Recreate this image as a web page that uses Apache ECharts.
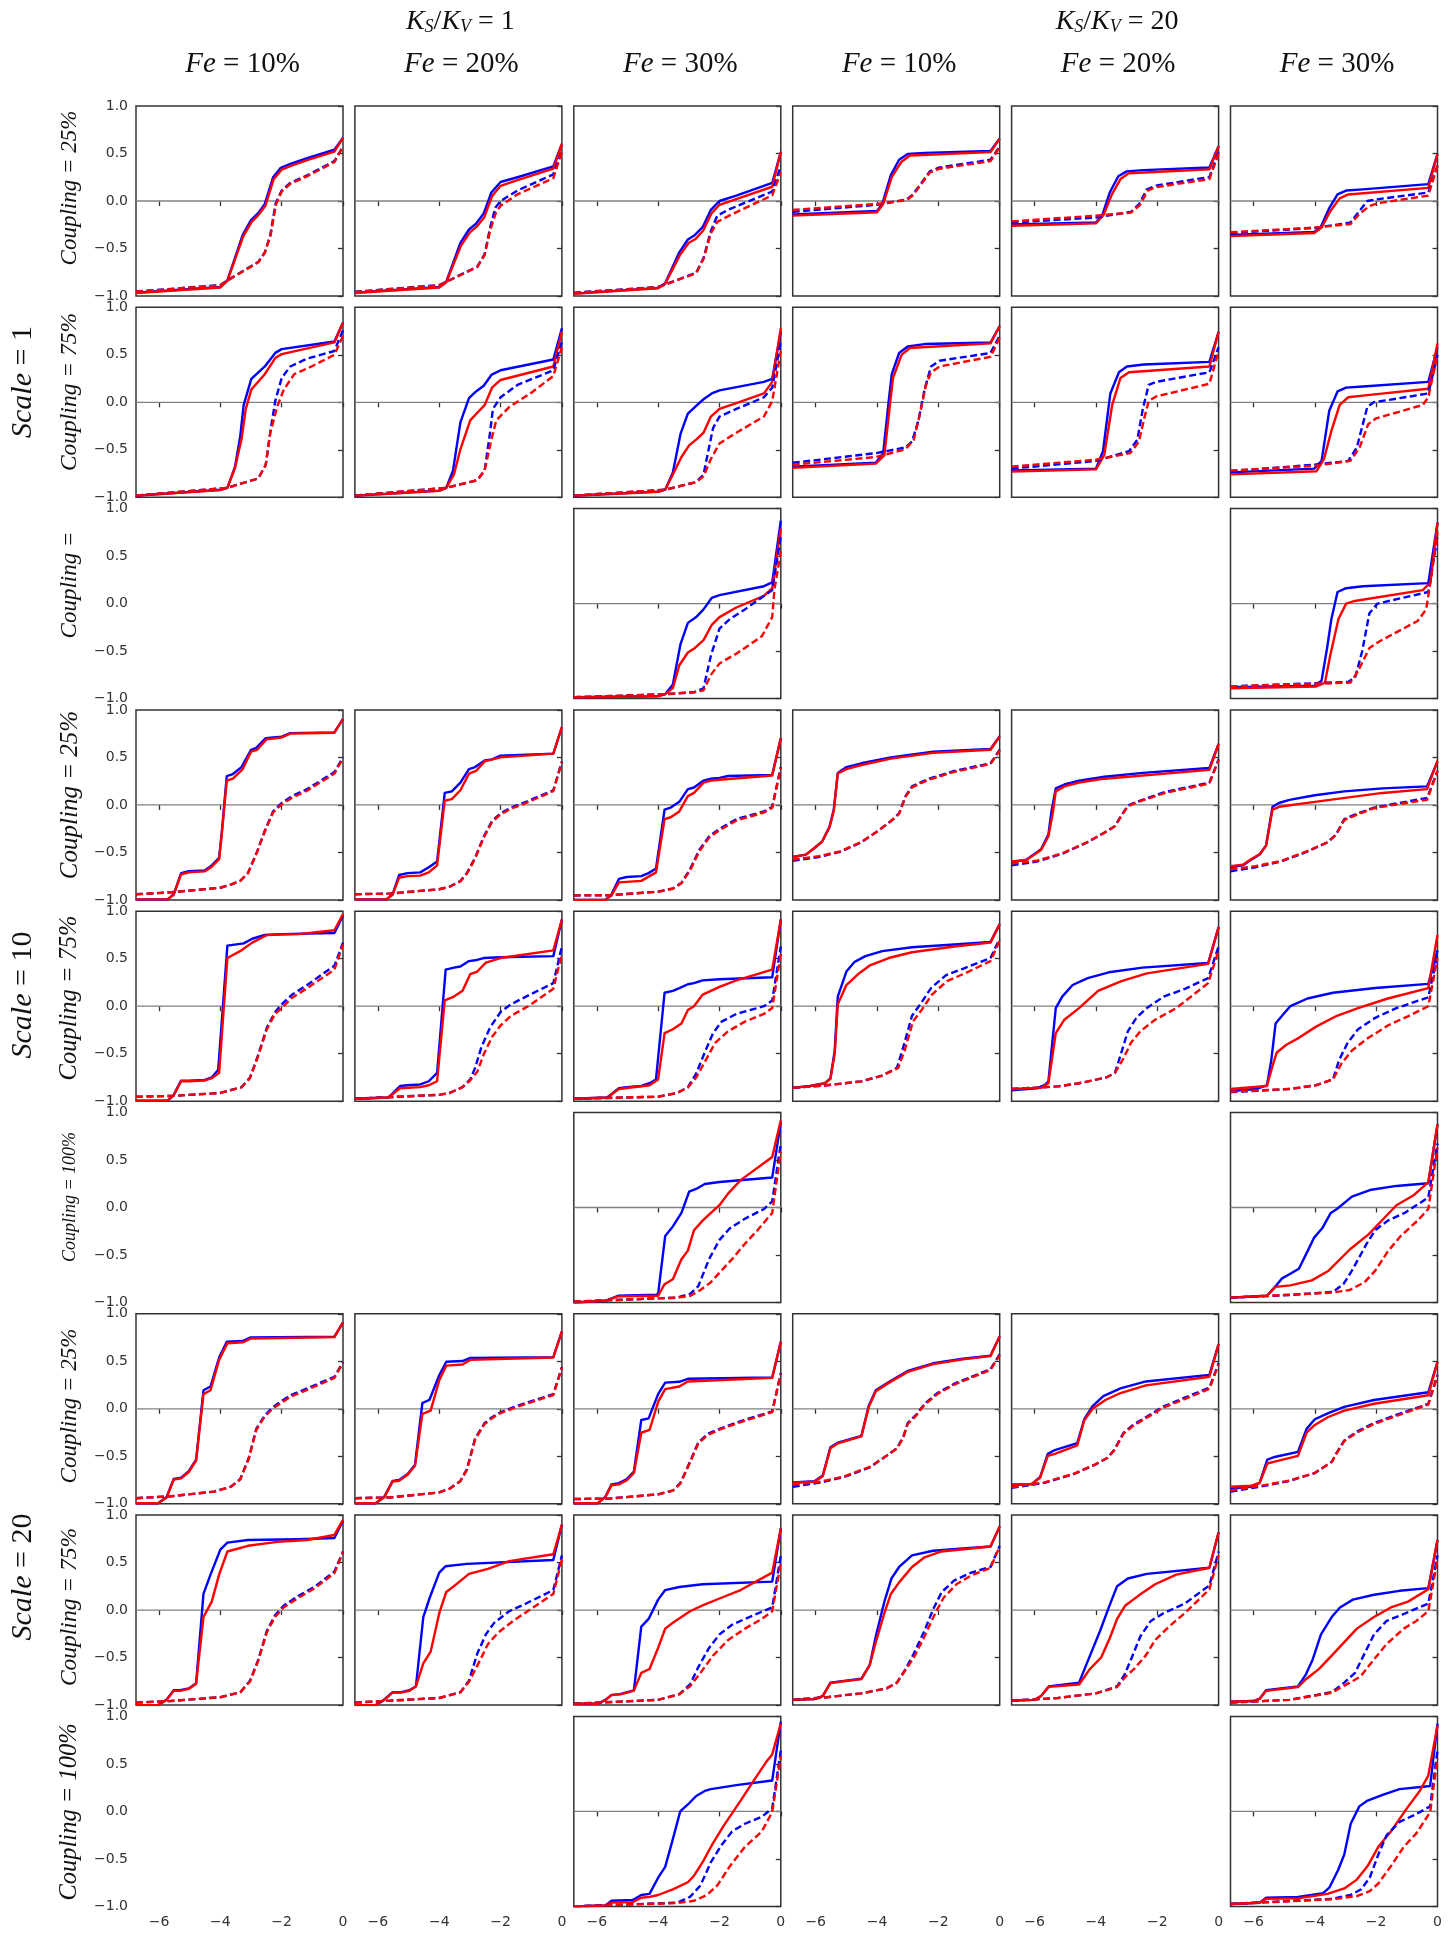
<!DOCTYPE html>
<html>
<head>
<meta charset="utf-8">
<script src="https://cdn.jsdelivr.net/npm/echarts@6/dist/echarts.min.js"></script>
<style>
html,body{margin:0;padding:0;background:#fff;}
#chart{width:1451px;height:1938px;}
</style>
</head>
<body>
<div id="chart"></div>
<script>
// ---------- Labels ----------
const ratioHeaders = ['1', '20'];
const feLabels = ['10%', '20%', '30%', '10%', '20%', '30%'];
const scaleLabels = ['1', '10', '20'];
const couplingLabels = ['Coupling = 25%', 'Coupling = 75%', 'Coupling =', 'Coupling = 25%', 'Coupling = 75%', 'Coupling = 100%', 'Coupling = 25%', 'Coupling = 75%', 'Coupling = 100%'];
const xTicks = [-6, -4, -2, 0];
const yTicks = [-1, -0.5, 0, 0.5, 1];
const zeroLine = [[-6.75, 0], [0, 0]];

// ---------- Data: each panel = [blue solid, red solid, blue dashed, red dashed], points [x, y] ----------
// Scale = 1, Coupling = 25%
const r1c1 = [
 [[-6.75,-0.965],[-4,-0.905],[-3.77,-0.835],[-3.27,-0.357],[-3.0,-0.2],[-2.76,-0.125],[-2.55,-0.03],[-2.28,0.25],[-2.03,0.35],[-1.72,0.39],[-1.17,0.45],[-0.28,0.54],[0,0.665]],
 [[-6.75,-0.97],[-4,-0.91],[-3.77,-0.84],[-3.25,-0.37],[-2.98,-0.22],[-2.74,-0.14],[-2.53,-0.05],[-2.26,0.23],[-2.0,0.33],[-1.7,0.37],[-1.17,0.43],[-0.28,0.52],[0,0.665]],
 [[-6.75,-0.953],[-4,-0.885],[-3.77,-0.835],[-2.76,-0.64],[-2.55,-0.54],[-2.37,-0.357],[-2.2,-0.03],[-2.0,0.11],[-1.72,0.19],[-1.17,0.27],[-0.28,0.42],[0,0.575]],
 [[-6.75,-0.955],[-4,-0.888],[-3.77,-0.838],[-2.76,-0.645],[-2.55,-0.545],[-2.36,-0.36],[-2.19,-0.04],[-2.0,0.1],[-1.72,0.18],[-1.17,0.26],[-0.28,0.41],[0,0.57]]
];
const r1c2 = [
 [[-6.75,-0.965],[-4,-0.905],[-3.77,-0.85],[-3.31,-0.44],[-3.03,-0.3],[-2.8,-0.24],[-2.55,-0.13],[-2.3,0.09],[-2.0,0.2],[-1.45,0.25],[-0.28,0.365],[0,0.6]],
 [[-6.75,-0.968],[-4,-0.91],[-3.77,-0.855],[-3.29,-0.47],[-3.0,-0.33],[-2.78,-0.27],[-2.53,-0.17],[-2.28,0.05],[-2.0,0.16],[-1.45,0.22],[-0.28,0.34],[0,0.6]],
 [[-6.75,-0.955],[-4,-0.885],[-3.77,-0.85],[-2.76,-0.69],[-2.52,-0.56],[-2.34,-0.28],[-2.17,-0.07],[-2.0,0.0],[-1.45,0.11],[-0.28,0.28],[0,0.53]],
 [[-6.75,-0.958],[-4,-0.888],[-3.77,-0.852],[-2.76,-0.695],[-2.52,-0.57],[-2.33,-0.3],[-2.15,-0.12],[-2.0,-0.05],[-1.45,0.07],[-0.28,0.24],[0,0.52]]
];
const r1c3 = [
 [[-6.75,-0.975],[-4,-0.915],[-3.77,-0.865],[-3.31,-0.54],[-3.03,-0.405],[-2.8,-0.357],[-2.55,-0.276],[-2.28,-0.093],[-2.0,0.0],[-1.45,0.057],[-0.28,0.19],[0,0.515]],
 [[-6.75,-0.978],[-4,-0.918],[-3.77,-0.87],[-3.29,-0.57],[-3.0,-0.44],[-2.78,-0.4],[-2.53,-0.31],[-2.26,-0.13],[-2.0,-0.04],[-1.45,0.02],[-0.28,0.15],[0,0.515]],
 [[-6.75,-0.965],[-4,-0.905],[-2.76,-0.755],[-2.52,-0.6],[-2.28,-0.316],[-2.07,-0.154],[-1.72,-0.093],[-0.28,0.1],[0,0.37]],
 [[-6.75,-0.968],[-4,-0.908],[-2.76,-0.76],[-2.52,-0.61],[-2.28,-0.34],[-2.07,-0.22],[-1.72,-0.16],[-0.28,0.06],[0,0.3]]
];
const r1c4 = [
 [[-6.75,-0.142],[-4,-0.105],[-3.83,-0.032],[-3.55,0.272],[-3.28,0.434],[-3.0,0.495],[-2.45,0.507],[-0.3,0.527],[0,0.657]],
 [[-6.75,-0.154],[-4,-0.118],[-3.8,-0.032],[-3.52,0.252],[-3.2,0.414],[-2.93,0.479],[-0.3,0.515],[0,0.657]],
 [[-6.75,-0.114],[-4,-0.04],[-3.04,0.016],[-2.83,0.069],[-2.55,0.19],[-2.28,0.312],[-1.96,0.353],[-0.3,0.434],[0,0.576]],
 [[-6.75,-0.093],[-4,-0.032],[-3.04,0.008],[-2.83,0.06],[-2.55,0.18],[-2.28,0.3],[-1.96,0.34],[-0.3,0.42],[0,0.565]]
];
const r1c5 = [
 [[-6.75,-0.247],[-4,-0.227],[-3.79,-0.146],[-3.55,0.089],[-3.27,0.26],[-3.0,0.312],[-2.45,0.325],[-0.3,0.353],[0,0.576]],
 [[-6.75,-0.26],[-4,-0.235],[-3.75,-0.146],[-3.48,0.07],[-3.2,0.231],[-2.93,0.292],[-0.3,0.333],[0,0.576]],
 [[-6.75,-0.227],[-4,-0.174],[-2.86,-0.114],[-2.59,-0.032],[-2.34,0.122],[-2.04,0.162],[-0.3,0.252],[0,0.515]],
 [[-6.75,-0.215],[-4,-0.154],[-2.86,-0.122],[-2.56,-0.04],[-2.31,0.11],[-2.04,0.146],[-0.3,0.231],[0,0.5]]
];
const r1c6 = [
 [[-6.75,-0.357],[-4.02,-0.325],[-3.81,-0.276],[-3.54,-0.081],[-3.26,0.069],[-2.98,0.11],[-2.43,0.122],[-0.3,0.178],[0,0.495]],
 [[-6.75,-0.37],[-4.02,-0.337],[-3.78,-0.28],[-3.51,-0.114],[-3.19,0.028],[-2.91,0.069],[-0.3,0.138],[0,0.495]],
 [[-6.75,-0.337],[-4.02,-0.284],[-2.84,-0.227],[-2.57,-0.114],[-2.29,0.0],[-2.02,0.016],[-0.3,0.089],[0,0.373]],
 [[-6.75,-0.329],[-4.02,-0.28],[-2.84,-0.243],[-2.54,-0.134],[-2.22,-0.053],[-1.96,-0.024],[-0.3,0.057],[0,0.373]]
];
// Scale = 1, Coupling = 75%
const r2c1 = [
 [[-6.75,-0.982],[-4,-0.92],[-3.77,-0.9],[-3.52,-0.677],[-3.35,-0.353],[-3.24,-0.03],[-2.99,0.247],[-2.55,0.377],[-2.21,0.52],[-2.0,0.56],[-0.28,0.64],[0,0.84]],
 [[-6.75,-0.985],[-4,-0.925],[-3.77,-0.9],[-3.52,-0.69],[-3.31,-0.39],[-3.17,-0.07],[-2.99,0.134],[-2.55,0.296],[-2.21,0.466],[-2.0,0.507],[-0.28,0.63],[0,0.84]],
 [[-6.75,-0.982],[-3.77,-0.9],[-2.76,-0.8],[-2.52,-0.657],[-2.37,-0.31],[-2.21,0.012],[-2.0,0.256],[-1.72,0.377],[-1.17,0.46],[-0.28,0.54],[0,0.76]],
 [[-6.75,-0.982],[-3.77,-0.9],[-2.76,-0.8],[-2.52,-0.66],[-2.37,-0.32],[-2.14,-0.04],[-1.93,0.134],[-1.59,0.296],[-1.03,0.377],[-0.28,0.5],[0,0.7]]
];
const r2c2 = [
 [[-6.75,-0.982],[-4,-0.93],[-3.77,-0.9],[-3.55,-0.718],[-3.31,-0.211],[-3.03,0.045],[-2.8,0.114],[-2.55,0.174],[-2.3,0.288],[-2.0,0.337],[-0.28,0.45],[0,0.78]],
 [[-6.75,-0.985],[-4,-0.932],[-3.77,-0.9],[-3.52,-0.76],[-3.31,-0.495],[-2.99,-0.19],[-2.76,-0.11],[-2.52,-0.03],[-2.28,0.154],[-2.0,0.235],[-0.28,0.377],[0,0.742]],
 [[-6.75,-0.982],[-3.77,-0.9],[-2.76,-0.82],[-2.52,-0.718],[-2.34,-0.312],[-2.25,-0.07],[-2.0,0.053],[-1.45,0.183],[-0.28,0.337],[0,0.64]],
 [[-6.75,-0.982],[-3.77,-0.9],[-2.76,-0.82],[-2.52,-0.718],[-2.3,-0.393],[-2.14,-0.19],[-1.72,-0.05],[-1.03,0.093],[-0.28,0.276],[0,0.58]]
];
const r2c3 = [
 [[-6.75,-0.982],[-4,-0.94],[-3.77,-0.92],[-3.52,-0.738],[-3.27,-0.333],[-3.03,-0.118],[-2.76,-0.037],[-2.52,0.032],[-2.25,0.093],[-2.0,0.126],[-0.55,0.215],[-0.28,0.247],[0,0.742]],
 [[-6.75,-0.985],[-4,-0.942],[-3.77,-0.92],[-3.52,-0.76],[-3.24,-0.576],[-2.99,-0.454],[-2.76,-0.393],[-2.52,-0.32],[-2.28,-0.15],[-2.0,-0.07],[-1.45,-0.008],[-0.55,0.093],[-0.28,0.215],[0,0.78]],
 [[-6.75,-0.982],[-3.77,-0.92],[-2.76,-0.84],[-2.52,-0.76],[-2.34,-0.475],[-2.21,-0.272],[-2.0,-0.15],[-1.45,-0.07],[-0.55,0.053],[-0.28,0.154],[0,0.64]],
 [[-6.75,-0.982],[-3.77,-0.92],[-2.76,-0.84],[-2.52,-0.78],[-2.28,-0.597],[-2.0,-0.434],[-1.45,-0.32],[-0.55,-0.15],[-0.28,0.012],[0,0.54]]
];
const r2c4 = [
 [[-6.75,-0.677],[-4.04,-0.637],[-3.8,-0.535],[-3.62,0.012],[-3.52,0.296],[-3.28,0.519],[-3.0,0.588],[-2.45,0.613],[-0.3,0.629],[0,0.803]],
 [[-6.75,-0.69],[-4.04,-0.645],[-3.76,-0.556],[-3.58,-0.028],[-3.48,0.256],[-3.2,0.499],[-2.93,0.572],[-0.3,0.62],[0,0.803]],
 [[-6.75,-0.637],[-4.04,-0.535],[-3.07,-0.475],[-2.86,-0.414],[-2.65,-0.19],[-2.45,0.134],[-2.24,0.377],[-1.96,0.438],[-0.3,0.519],[0,0.7]],
 [[-6.75,-0.657],[-4.04,-0.576],[-3.07,-0.495],[-2.8,-0.393],[-2.62,-0.15],[-2.41,0.174],[-2.24,0.316],[-1.96,0.377],[-0.3,0.479],[0,0.68]]
];
const r2c5 = [
 [[-6.75,-0.718],[-4,-0.698],[-3.77,-0.515],[-3.53,0.093],[-3.25,0.316],[-2.99,0.377],[-2.44,0.398],[-0.3,0.426],[0,0.742]],
 [[-6.75,-0.73],[-4,-0.706],[-3.73,-0.556],[-3.47,-0.028],[-3.2,0.256],[-2.92,0.316],[-0.3,0.377],[0,0.742]],
 [[-6.75,-0.698],[-4,-0.617],[-2.92,-0.515],[-2.65,-0.393],[-2.47,-0.069],[-2.28,0.183],[-2.04,0.215],[-0.3,0.316],[0,0.58]],
 [[-6.75,-0.677],[-4,-0.604],[-2.88,-0.535],[-2.6,-0.414],[-2.41,-0.15],[-2.28,0.012],[-2.04,0.061],[-0.3,0.195],[0,0.54]]
];
const r2c6 = [
 [[-6.75,-0.738],[-4.02,-0.698],[-3.78,-0.617],[-3.53,-0.089],[-3.26,0.114],[-2.98,0.154],[-2.43,0.166],[-0.3,0.215],[0,0.58]],
 [[-6.75,-0.759],[-3.95,-0.726],[-3.7,-0.596],[-3.47,-0.312],[-3.19,-0.028],[-2.91,0.053],[-2.36,0.073],[-0.3,0.142],[0,0.62]],
 [[-6.75,-0.726],[-4.02,-0.657],[-2.91,-0.617],[-2.63,-0.475],[-2.29,-0.049],[-2.08,0.0],[-0.3,0.093],[0,0.5]],
 [[-6.75,-0.718],[-4.02,-0.669],[-2.84,-0.617],[-2.54,-0.475],[-2.26,-0.231],[-2.01,-0.17],[-0.48,-0.028],[-0.3,0.053],[0,0.5]]
];
// Scale = 1, Coupling = (100%)
const r3c3 = [
 [[-6.75,-0.986],[-4,-0.974],[-3.77,-0.953],[-3.52,-0.852],[-3.27,-0.426],[-3.03,-0.203],[-2.76,-0.142],[-2.52,-0.061],[-2.25,0.061],[-2.0,0.089],[-0.55,0.183],[-0.28,0.223],[0,0.872]],
 [[-6.75,-0.988],[-4,-0.976],[-3.77,-0.953],[-3.52,-0.89],[-3.31,-0.649],[-3.03,-0.515],[-2.8,-0.467],[-2.52,-0.385],[-2.25,-0.223],[-2.0,-0.142],[-1.45,-0.041],[-0.55,0.081],[-0.28,0.162],[0,0.79]],
 [[-6.75,-0.986],[-3.77,-0.953],[-2.83,-0.933],[-2.52,-0.892],[-2.28,-0.548],[-2.0,-0.264],[-1.66,-0.162],[-1.17,-0.061],[-0.55,0.081],[-0.28,0.142],[0,0.71]],
 [[-6.75,-0.986],[-3.77,-0.953],[-2.83,-0.933],[-2.52,-0.913],[-2.28,-0.75],[-2.0,-0.63],[-1.45,-0.527],[-0.62,-0.345],[-0.28,-0.142],[-0.21,0.142],[0,0.55]]
];
const r3c6 = [
 [[-6.75,-0.88],[-4.02,-0.864],[-3.78,-0.811],[-3.6,-0.467],[-3.46,-0.162],[-3.26,0.122],[-2.98,0.162],[-2.43,0.183],[-0.3,0.215],[0,0.852]],
 [[-6.75,-0.892],[-3.95,-0.872],[-3.67,-0.832],[-3.5,-0.548],[-3.23,-0.162],[-2.98,0.0],[-2.7,0.028],[-0.48,0.142],[-0.23,0.223],[0,0.852]],
 [[-6.75,-0.872],[-2.91,-0.824],[-2.68,-0.771],[-2.46,-0.507],[-2.22,-0.101],[-1.96,0.0],[-0.3,0.122],[0,0.71]],
 [[-6.75,-0.872],[-2.84,-0.832],[-2.59,-0.71],[-2.22,-0.467],[-1.87,-0.393],[-0.65,-0.183],[-0.37,-0.061],[-0.23,0.223],[0,0.75]]
];
// Scale = 10, Coupling = 25%
const r4c1 = [
 [[-6.75,-0.994],[-5.72,-0.994],[-5.52,-0.941],[-5.28,-0.718],[-5.03,-0.698],[-4.51,-0.69],[-4.28,-0.637],[-4.04,-0.556],[-3.96,-0.312],[-3.79,0.304],[-3.59,0.325],[-3.31,0.398],[-3.0,0.58],[-2.83,0.6],[-2.52,0.702],[-2.28,0.71],[-2.0,0.718],[-1.72,0.755],[-0.28,0.763],[0,0.905]],
 [[-6.75,-0.994],[-5.72,-0.994],[-5.52,-0.945],[-5.28,-0.73],[-5.03,-0.71],[-4.51,-0.7],[-4.28,-0.65],[-4.04,-0.57],[-3.96,-0.33],[-3.79,0.256],[-3.59,0.276],[-3.27,0.377],[-3.0,0.56],[-2.8,0.58],[-2.5,0.69],[-2.0,0.71],[-1.72,0.75],[-0.28,0.76],[0,0.905]],
 [[-6.75,-0.941],[-5.59,-0.92],[-4,-0.872],[-3.66,-0.84],[-3.35,-0.8],[-3.1,-0.718],[-2.83,-0.515],[-2.55,-0.272],[-2.28,-0.069],[-2.0,0.02],[-1.66,0.093],[-1.17,0.166],[-0.28,0.345],[0,0.5]],
 [[-6.75,-0.941],[-5.59,-0.92],[-4,-0.872],[-3.66,-0.84],[-3.35,-0.8],[-3.1,-0.72],[-2.83,-0.52],[-2.55,-0.28],[-2.28,-0.08],[-2.0,0.005],[-1.66,0.075],[-1.17,0.15],[-0.28,0.33],[0,0.49]]
];
const r4c2 = [
 [[-6.75,-0.994],[-5.72,-0.994],[-5.52,-0.941],[-5.31,-0.738],[-5.03,-0.718],[-4.62,-0.71],[-4.34,-0.657],[-4.07,-0.596],[-3.82,0.126],[-3.59,0.142],[-3.31,0.235],[-3.03,0.377],[-2.83,0.398],[-2.52,0.467],[-2.28,0.479],[-2.0,0.519],[-0.28,0.54],[0,0.82]],
 [[-6.75,-0.994],[-5.72,-0.994],[-5.52,-0.945],[-5.31,-0.767],[-5.03,-0.75],[-4.62,-0.745],[-4.34,-0.71],[-4.07,-0.637],[-3.82,0.045],[-3.59,0.061],[-3.31,0.154],[-3.03,0.329],[-2.8,0.357],[-2.52,0.458],[-2.0,0.5],[-0.28,0.54],[0,0.82]],
 [[-6.75,-0.941],[-5.59,-0.933],[-4,-0.888],[-3.66,-0.86],[-3.31,-0.8],[-3.1,-0.718],[-2.83,-0.556],[-2.55,-0.333],[-2.28,-0.17],[-2.0,-0.089],[-1.66,-0.028],[-1.17,0.032],[-0.28,0.154],[0,0.458]],
 [[-6.75,-0.941],[-5.59,-0.933],[-4,-0.888],[-3.66,-0.862],[-3.31,-0.805],[-3.1,-0.725],[-2.83,-0.565],[-2.55,-0.345],[-2.28,-0.18],[-2.0,-0.1],[-1.66,-0.04],[-1.17,0.02],[-0.28,0.145],[0,0.45]]
];
const r4c3 = [
 [[-6.75,-1.0],[-5.72,-1.0],[-5.52,-0.941],[-5.28,-0.779],[-5.03,-0.759],[-4.55,-0.75],[-4.31,-0.718],[-4.07,-0.67],[-3.79,-0.049],[-3.59,-0.028],[-3.31,0.032],[-3.03,0.166],[-2.83,0.183],[-2.52,0.256],[-2.28,0.276],[-2.0,0.284],[-1.72,0.304],[-0.28,0.316],[0,0.702]],
 [[-6.75,-1.0],[-5.72,-1.0],[-5.52,-0.953],[-5.28,-0.815],[-4.55,-0.8],[-4.07,-0.71],[-3.79,-0.15],[-3.59,-0.13],[-3.31,-0.069],[-3.03,0.093],[-2.83,0.126],[-2.52,0.235],[-2.28,0.256],[-2.0,0.264],[-0.28,0.31],[0,0.702]],
 [[-6.75,-0.953],[-5.59,-0.95],[-4,-0.913],[-3.52,-0.88],[-3.24,-0.82],[-2.96,-0.677],[-2.66,-0.475],[-2.34,-0.333],[-2.0,-0.252],[-1.45,-0.15],[-0.55,-0.069],[-0.28,-0.02],[0,0.398]],
 [[-6.75,-0.953],[-5.59,-0.95],[-4,-0.915],[-3.52,-0.883],[-3.24,-0.825],[-2.96,-0.69],[-2.66,-0.49],[-2.34,-0.345],[-2.0,-0.265],[-1.45,-0.165],[-0.55,-0.08],[-0.28,-0.03],[0,0.39]]
];
const r4c4 = [
 [[-6.75,-0.548],[-6.32,-0.523],[-6.04,-0.454],[-5.79,-0.385],[-5.55,-0.231],[-5.41,-0.049],[-5.28,0.337],[-5.0,0.398],[-4.51,0.438],[-3.55,0.499],[-2.17,0.56],[-0.3,0.588],[0,0.722]],
 [[-6.75,-0.548],[-6.32,-0.523],[-6.04,-0.454],[-5.79,-0.385],[-5.55,-0.235],[-5.41,-0.06],[-5.28,0.33],[-5.0,0.377],[-4.51,0.42],[-3.55,0.487],[-2.17,0.548],[-0.3,0.58],[0,0.722]],
 [[-6.75,-0.588],[-5.9,-0.548],[-5.21,-0.495],[-4.51,-0.393],[-3.96,-0.272],[-3.55,-0.17],[-3.28,-0.089],[-3.07,0.093],[-2.86,0.195],[-2.31,0.276],[-1.48,0.357],[-0.3,0.438],[0,0.58]],
 [[-6.75,-0.576],[-5.9,-0.54],[-5.21,-0.49],[-4.51,-0.39],[-3.96,-0.272],[-3.55,-0.172],[-3.28,-0.095],[-3.07,0.085],[-2.86,0.185],[-2.31,0.266],[-1.48,0.347],[-0.3,0.43],[0,0.575]]
];
const r4c5 = [
 [[-6.75,-0.604],[-6.27,-0.576],[-5.79,-0.467],[-5.55,-0.312],[-5.45,-0.069],[-5.31,0.174],[-5.03,0.215],[-4.55,0.256],[-3.72,0.296],[-2.47,0.337],[-0.3,0.389],[0,0.641]],
 [[-6.75,-0.596],[-6.27,-0.58],[-5.79,-0.475],[-5.55,-0.33],[-5.41,-0.09],[-5.31,0.142],[-5.03,0.195],[-4.55,0.236],[-3.72,0.276],[-0.3,0.369],[0,0.641]],
 [[-6.75,-0.637],[-5.93,-0.596],[-5.1,-0.515],[-4.27,-0.393],[-3.72,-0.292],[-3.38,-0.223],[-3.17,-0.11],[-2.96,-0.008],[-2.68,0.032],[-1.76,0.134],[-0.3,0.235],[0,0.479]],
 [[-6.75,-0.617],[-5.93,-0.588],[-5.1,-0.51],[-4.27,-0.39],[-3.72,-0.292],[-3.38,-0.225],[-3.17,-0.115],[-2.96,-0.015],[-2.68,0.025],[-1.76,0.125],[-0.3,0.225],[0,0.47]]
];
const r4c6 = [
 [[-6.75,-0.657],[-6.35,-0.637],[-6.07,-0.576],[-5.8,-0.523],[-5.59,-0.426],[-5.38,-0.02],[-5.17,0.02],[-4.83,0.053],[-4.0,0.101],[-3.04,0.142],[-1.79,0.174],[-0.34,0.195],[0,0.458]],
 [[-6.75,-0.645],[-6.35,-0.63],[-6.07,-0.57],[-5.8,-0.52],[-5.59,-0.43],[-5.38,-0.049],[-5.17,-0.02],[-4.0,0.032],[-1.79,0.126],[-0.34,0.166],[0,0.465]],
 [[-6.75,-0.698],[-5.94,-0.657],[-5.1,-0.596],[-4.27,-0.495],[-3.58,-0.393],[-3.31,-0.312],[-3.04,-0.15],[-2.76,-0.11],[-2.07,-0.028],[-1.24,0.02],[-0.34,0.073],[0,0.357]],
 [[-6.75,-0.677],[-5.94,-0.645],[-5.1,-0.59],[-4.27,-0.49],[-3.58,-0.393],[-3.31,-0.315],[-3.04,-0.16],[-2.76,-0.12],[-2.07,-0.035],[-1.24,0.01],[-0.34,0.053],[0,0.357]]
];
// Scale = 10, Coupling = 75%
const r5c1 = [
 [[-6.75,-0.994],[-5.72,-0.994],[-5.52,-0.933],[-5.28,-0.783],[-5.03,-0.783],[-4.51,-0.775],[-4.28,-0.75],[-4.07,-0.669],[-3.77,0.637],[-3.24,0.661],[-2.96,0.71],[-2.55,0.75],[-2.0,0.759],[-0.28,0.771],[0,0.953]],
 [[-6.75,-0.994],[-5.72,-0.994],[-5.52,-0.937],[-5.28,-0.79],[-5.03,-0.79],[-4.51,-0.782],[-4.28,-0.758],[-4.04,-0.702],[-3.77,0.507],[-3.31,0.588],[-2.96,0.669],[-2.48,0.75],[-1.45,0.759],[-0.28,0.8],[0,0.97]],
 [[-6.75,-0.953],[-5.59,-0.945],[-4,-0.913],[-3.31,-0.852],[-3.03,-0.75],[-2.76,-0.507],[-2.48,-0.223],[-2.21,-0.061],[-2.0,0.02],[-1.66,0.122],[-1.17,0.223],[-0.28,0.426],[0,0.67]],
 [[-6.75,-0.953],[-5.59,-0.945],[-4,-0.913],[-3.31,-0.855],[-3.03,-0.755],[-2.76,-0.52],[-2.48,-0.24],[-2.21,-0.08],[-2.0,-0.02],[-1.66,0.09],[-1.17,0.19],[-0.28,0.385],[0,0.65]]
];
const r5c2 = [
 [[-6.75,-0.974],[-5.66,-0.961],[-5.28,-0.84],[-5.03,-0.832],[-4.62,-0.824],[-4.34,-0.79],[-4.07,-0.702],[-3.79,0.385],[-3.52,0.406],[-3.31,0.418],[-3.03,0.475],[-2.83,0.483],[-2.55,0.507],[-2.0,0.515],[-0.28,0.527],[0,0.913]],
 [[-6.75,-0.974],[-5.66,-0.961],[-5.28,-0.864],[-4.62,-0.852],[-4.34,-0.832],[-4.07,-0.79],[-3.82,0.061],[-3.52,0.101],[-3.24,0.162],[-2.99,0.337],[-2.76,0.365],[-2.48,0.458],[-2.0,0.507],[-0.28,0.588],[0,0.913]],
 [[-6.75,-0.974],[-4,-0.933],[-3.66,-0.913],[-3.24,-0.852],[-2.99,-0.771],[-2.83,-0.649],[-2.62,-0.426],[-2.34,-0.223],[-2.0,-0.061],[-1.66,0.02],[-1.17,0.101],[-0.28,0.243],[0,0.63]],
 [[-6.75,-0.974],[-4,-0.933],[-3.66,-0.913],[-3.24,-0.852],[-2.99,-0.78],[-2.76,-0.69],[-2.55,-0.507],[-2.28,-0.325],[-2.0,-0.203],[-1.66,-0.101],[-1.1,0.0],[-0.28,0.183],[0,0.55]]
];
const r5c3 = [
 [[-6.75,-0.974],[-5.66,-0.961],[-5.28,-0.864],[-5.03,-0.852],[-4.55,-0.84],[-4.28,-0.811],[-4.07,-0.771],[-3.79,0.142],[-3.52,0.162],[-3.31,0.19],[-3.03,0.231],[-2.83,0.243],[-2.55,0.272],[-2.0,0.284],[-0.28,0.304],[0,0.913]],
 [[-6.75,-0.974],[-5.66,-0.961],[-5.28,-0.872],[-4.28,-0.832],[-4.0,-0.771],[-3.79,-0.284],[-3.52,-0.243],[-3.24,-0.183],[-3.03,-0.041],[-2.83,0.0],[-2.55,0.122],[-2.28,0.162],[-2.0,0.203],[-1.45,0.272],[-0.28,0.385],[0,0.913]],
 [[-6.75,-0.974],[-4,-0.953],[-3.38,-0.913],[-3.03,-0.852],[-2.76,-0.71],[-2.48,-0.487],[-2.21,-0.284],[-1.93,-0.162],[-1.45,-0.081],[-0.55,0.0],[-0.28,0.061],[0,0.63]],
 [[-6.75,-0.974],[-4,-0.953],[-3.38,-0.913],[-3.03,-0.857],[-2.76,-0.75],[-2.48,-0.588],[-2.14,-0.385],[-1.72,-0.264],[-1.17,-0.162],[-0.55,-0.081],[-0.28,-0.02],[0,0.55]]
];
const r5c4 = [
 [[-6.75,-0.86],[-6.18,-0.84],[-5.7,-0.811],[-5.52,-0.759],[-5.38,-0.467],[-5.28,0.101],[-5.0,0.365],[-4.73,0.467],[-4.38,0.527],[-3.83,0.58],[-2.86,0.621],[-1.48,0.649],[-0.3,0.677],[0,0.864]],
 [[-6.75,-0.86],[-6.18,-0.84],[-5.7,-0.811],[-5.52,-0.765],[-5.38,-0.5],[-5.28,0.02],[-5.0,0.223],[-4.59,0.345],[-4.25,0.426],[-3.62,0.507],[-2.86,0.568],[-1.48,0.629],[-0.3,0.669],[0,0.864]],
 [[-6.75,-0.86],[-5.63,-0.832],[-4.51,-0.791],[-3.83,-0.73],[-3.35,-0.649],[-3.14,-0.426],[-2.86,-0.101],[-2.59,0.02],[-2.24,0.191],[-1.76,0.325],[-1.2,0.394],[-0.3,0.507],[0,0.71]],
 [[-6.75,-0.86],[-5.63,-0.832],[-4.51,-0.791],[-3.83,-0.73],[-3.31,-0.649],[-3.1,-0.467],[-2.83,-0.162],[-2.55,-0.041],[-2.21,0.122],[-1.72,0.264],[-1.14,0.345],[-0.3,0.475],[0,0.69]]
];
const r5c5 = [
 [[-6.75,-0.884],[-5.93,-0.864],[-5.68,-0.832],[-5.55,-0.791],[-5.31,-0.02],[-5.1,0.101],[-4.76,0.223],[-4.27,0.296],[-3.58,0.357],[-2.48,0.406],[-0.34,0.454],[0,0.832]],
 [[-6.75,-0.872],[-5.79,-0.86],[-5.55,-0.812],[-5.31,-0.284],[-5.03,-0.142],[-4.55,-0.02],[-3.93,0.162],[-3.17,0.264],[-2.34,0.345],[-0.34,0.446],[0,0.832]],
 [[-6.75,-0.872],[-5.24,-0.844],[-4.55,-0.811],[-3.66,-0.75],[-3.38,-0.702],[-3.17,-0.487],[-2.96,-0.264],[-2.68,-0.122],[-2.34,-0.02],[-1.79,0.101],[-1.1,0.183],[-0.34,0.296],[0,0.629]],
 [[-6.75,-0.872],[-5.24,-0.844],[-4.55,-0.811],[-3.66,-0.75],[-3.38,-0.702],[-3.1,-0.548],[-2.86,-0.385],[-2.55,-0.264],[-2.07,-0.142],[-1.38,-0.02],[-0.34,0.243],[0,0.59]]
];
const r5c6 = [
 [[-6.75,-0.892],[-5.91,-0.872],[-5.56,-0.832],[-5.42,-0.568],[-5.28,-0.183],[-5.07,-0.101],[-4.8,0.0],[-4.24,0.081],[-3.41,0.142],[-2.03,0.191],[-0.3,0.235],[0,0.588]],
 [[-6.75,-0.872],[-5.56,-0.84],[-5.38,-0.629],[-5.24,-0.487],[-4.93,-0.406],[-4.52,-0.333],[-3.96,-0.215],[-3.28,-0.101],[-2.59,-0.02],[-1.62,0.081],[-0.3,0.191],[0,0.75]],
 [[-6.75,-0.905],[-4.8,-0.872],[-3.96,-0.832],[-3.41,-0.771],[-3.21,-0.568],[-2.93,-0.385],[-2.59,-0.243],[-2.03,-0.122],[-1.34,-0.02],[-0.3,0.093],[0,0.548]],
 [[-6.75,-0.9],[-4.8,-0.87],[-3.96,-0.832],[-3.41,-0.771],[-3.14,-0.608],[-2.79,-0.467],[-2.31,-0.345],[-1.62,-0.203],[-0.93,-0.101],[-0.3,0.0],[0,0.507]]
];
// Scale = 10, Coupling = 100%
const r6c3 = [
 [[-6.75,-1.0],[-5.72,-0.982],[-5.31,-0.929],[-4.07,-0.917],[-4,-0.909],[-3.77,-0.3],[-3.52,-0.199],[-3.24,-0.057],[-2.99,0.166],[-2.76,0.195],[-2.48,0.247],[-2.0,0.268],[-0.28,0.316],[0,0.897]],
 [[-6.75,-1.0],[-5.72,-0.982],[-5.31,-0.935],[-4,-0.929],[-3.79,-0.807],[-3.52,-0.755],[-3.24,-0.544],[-3.03,-0.454],[-2.83,-0.239],[-2.55,-0.138],[-2.28,-0.057],[-2.0,0.024],[-1.72,0.146],[-1.31,0.288],[-0.28,0.531],[0,0.917]],
 [[-6.75,-0.99],[-3.38,-0.949],[-2.96,-0.909],[-2.69,-0.828],[-2.34,-0.544],[-2.0,-0.341],[-1.66,-0.219],[-1.17,-0.118],[-0.55,-0.016],[-0.28,0.065],[0,0.67]],
 [[-6.75,-0.99],[-3.38,-0.949],[-2.96,-0.93],[-2.62,-0.868],[-2.28,-0.787],[-2.0,-0.686],[-1.59,-0.544],[-1.17,-0.381],[-0.76,-0.239],[-0.28,-0.057],[0,0.592]]
];
const r6c6 = [
 [[-6.75,-0.949],[-5.56,-0.929],[-5.28,-0.828],[-5.07,-0.746],[-4.8,-0.698],[-4.52,-0.645],[-4.24,-0.462],[-4.03,-0.32],[-3.76,-0.219],[-3.48,-0.057],[-3.28,-0.016],[-2.79,0.114],[-2.16,0.187],[-1.34,0.227],[-0.3,0.256],[0,0.876]],
 [[-6.75,-0.949],[-5.56,-0.929],[-5.28,-0.836],[-4.8,-0.82],[-4.1,-0.767],[-3.55,-0.665],[-2.86,-0.442],[-2.24,-0.28],[-1.76,-0.118],[-1.34,0.024],[-0.79,0.126],[-0.3,0.268],[0,0.876]],
 [[-6.75,-0.949],[-4.8,-0.921],[-3.41,-0.888],[-3.07,-0.807],[-2.79,-0.665],[-2.31,-0.381],[-2.03,-0.239],[-1.62,-0.138],[-1.07,-0.057],[-0.3,0.105],[0,0.673]],
 [[-6.75,-0.949],[-3.41,-0.895],[-2.86,-0.868],[-2.38,-0.787],[-2.03,-0.665],[-1.62,-0.462],[-1.2,-0.3],[-0.65,-0.138],[-0.3,-0.016],[0,0.633]]
];
// Scale = 20, Coupling = 25%
const r7c1 = [
 [[-6.75,-0.994],[-6.03,-0.994],[-5.75,-0.929],[-5.52,-0.738],[-5.28,-0.726],[-5.03,-0.657],[-4.79,-0.535],[-4.55,0.195],[-4.32,0.235],[-4.04,0.54],[-3.79,0.706],[-3.27,0.714],[-3.03,0.75],[-0.28,0.759],[0,0.909]],
 [[-6.75,-0.994],[-6.03,-0.994],[-5.75,-0.933],[-5.52,-0.745],[-5.28,-0.733],[-5.03,-0.665],[-4.79,-0.545],[-4.55,0.154],[-4.32,0.195],[-4.04,0.515],[-3.77,0.69],[-3.27,0.7],[-3.0,0.74],[-0.28,0.755],[0,0.909]],
 [[-6.75,-0.941],[-5.59,-0.92],[-4.21,-0.872],[-3.66,-0.82],[-3.35,-0.738],[-3.07,-0.515],[-2.83,-0.211],[-2.55,-0.069],[-2.28,0.02],[-1.72,0.142],[-1.17,0.215],[-0.28,0.337],[0,0.491]],
 [[-6.75,-0.941],[-5.59,-0.92],[-4.21,-0.872],[-3.66,-0.822],[-3.35,-0.745],[-3.07,-0.525],[-2.83,-0.225],[-2.55,-0.08],[-2.28,0.005],[-1.72,0.125],[-1.17,0.2],[-0.28,0.325],[0,0.485]]
];
const r7c2 = [
 [[-6.75,-0.994],[-6.07,-0.994],[-5.79,-0.925],[-5.52,-0.759],[-5.31,-0.75],[-5.03,-0.686],[-4.79,-0.588],[-4.55,0.061],[-4.32,0.093],[-4.0,0.353],[-3.77,0.495],[-3.24,0.503],[-2.99,0.535],[-0.28,0.544],[0,0.815]],
 [[-6.75,-0.994],[-6.07,-0.994],[-5.79,-0.93],[-5.52,-0.765],[-5.31,-0.757],[-5.03,-0.695],[-4.79,-0.6],[-4.55,-0.053],[-4.28,-0.02],[-4.0,0.3],[-3.77,0.454],[-3.24,0.467],[-2.99,0.515],[-0.28,0.54],[0,0.815]],
 [[-6.75,-0.941],[-5.59,-0.933],[-4,-0.88],[-3.66,-0.84],[-3.31,-0.759],[-3.1,-0.637],[-2.83,-0.312],[-2.52,-0.15],[-2.28,-0.089],[-2.0,-0.037],[-1.45,0.032],[-0.28,0.154],[0,0.438]],
 [[-6.75,-0.941],[-5.59,-0.933],[-4,-0.88],[-3.66,-0.842],[-3.31,-0.762],[-3.1,-0.645],[-2.83,-0.325],[-2.52,-0.16],[-2.28,-0.1],[-2.0,-0.045],[-1.45,0.022],[-0.28,0.145],[0,0.43]]
];
const r7c3 = [
 [[-6.75,-0.994],[-5.97,-0.994],[-5.72,-0.925],[-5.52,-0.795],[-5.28,-0.783],[-5.03,-0.742],[-4.79,-0.661],[-4.55,-0.118],[-4.31,-0.101],[-4.0,0.154],[-3.77,0.276],[-3.31,0.284],[-3.03,0.316],[-0.28,0.329],[0,0.706]],
 [[-6.75,-0.994],[-5.97,-0.994],[-5.72,-0.93],[-5.52,-0.805],[-5.28,-0.795],[-5.03,-0.755],[-4.79,-0.675],[-4.55,-0.252],[-4.28,-0.223],[-4.0,0.073],[-3.77,0.207],[-3.31,0.235],[-3.03,0.288],[-0.28,0.325],[0,0.706]],
 [[-6.75,-0.95],[-5.59,-0.945],[-4,-0.9],[-3.52,-0.86],[-3.27,-0.779],[-2.96,-0.556],[-2.69,-0.353],[-2.38,-0.264],[-2.0,-0.211],[-1.31,-0.13],[-0.28,-0.028],[0,0.377]],
 [[-6.75,-0.95],[-5.59,-0.945],[-4,-0.9],[-3.52,-0.862],[-3.27,-0.785],[-2.96,-0.565],[-2.69,-0.365],[-2.38,-0.275],[-2.0,-0.22],[-1.31,-0.14],[-0.28,-0.035],[0,0.37]]
];
const r7c4 = [
 [[-6.75,-0.775],[-6.04,-0.763],[-5.77,-0.702],[-5.52,-0.406],[-5.28,-0.357],[-4.51,-0.284],[-4.27,0.032],[-4.04,0.195],[-3.55,0.296],[-3.0,0.398],[-2.17,0.479],[-1.2,0.527],[-0.3,0.56],[0,0.763]],
 [[-6.75,-0.78],[-6.04,-0.768],[-5.77,-0.71],[-5.52,-0.415],[-5.28,-0.365],[-4.51,-0.29],[-4.27,0.02],[-4.04,0.185],[-3.55,0.286],[-3.0,0.388],[-2.17,0.47],[-1.2,0.52],[-0.3,0.555],[0,0.763]],
 [[-6.75,-0.82],[-5.9,-0.78],[-5.07,-0.718],[-4.24,-0.617],[-3.69,-0.495],[-3.35,-0.414],[-3.14,-0.292],[-3.0,-0.15],[-2.72,-0.061],[-2.45,0.053],[-2.03,0.166],[-1.48,0.264],[-0.3,0.418],[0,0.572]],
 [[-6.75,-0.8],[-5.9,-0.77],[-5.07,-0.712],[-4.24,-0.612],[-3.69,-0.495],[-3.35,-0.418],[-3.14,-0.3],[-3.0,-0.16],[-2.72,-0.07],[-2.45,0.043],[-2.03,0.155],[-1.48,0.255],[-0.3,0.41],[0,0.565]]
];
const r7c5 = [
 [[-6.75,-0.8],[-6.1,-0.795],[-5.82,-0.718],[-5.57,-0.475],[-5.34,-0.434],[-4.61,-0.361],[-4.38,-0.11],[-4.1,0.032],[-3.76,0.134],[-3.2,0.215],[-2.37,0.288],[-0.3,0.357],[0,0.68]],
 [[-6.75,-0.795],[-6.1,-0.79],[-5.82,-0.725],[-5.57,-0.495],[-5.34,-0.474],[-4.61,-0.385],[-4.38,-0.12],[-4.1,0.004],[-3.69,0.093],[-3.2,0.166],[-2.37,0.247],[-0.3,0.337],[0,0.68]],
 [[-6.75,-0.832],[-5.68,-0.78],[-4.72,-0.686],[-4.03,-0.588],[-3.62,-0.515],[-3.41,-0.434],[-3.1,-0.252],[-2.79,-0.17],[-2.37,-0.089],[-1.83,0.02],[-1.13,0.114],[-0.3,0.223],[0,0.479]],
 [[-6.75,-0.825],[-5.68,-0.775],[-4.72,-0.684],[-4.03,-0.588],[-3.62,-0.515],[-3.41,-0.44],[-3.1,-0.262],[-2.79,-0.18],[-2.37,-0.1],[-1.83,0.008],[-1.13,0.1],[-0.3,0.21],[0,0.47]]
];
const r7c6 = [
 [[-6.75,-0.84],[-6.07,-0.82],[-5.8,-0.779],[-5.55,-0.536],[-5.31,-0.507],[-4.55,-0.454],[-4.27,-0.211],[-4.0,-0.11],[-3.58,-0.049],[-3.04,0.02],[-2.07,0.093],[-0.3,0.174],[0,0.495]],
 [[-6.75,-0.82],[-6.07,-0.81],[-5.8,-0.779],[-5.55,-0.576],[-5.31,-0.556],[-4.55,-0.495],[-4.27,-0.252],[-4.0,-0.17],[-3.58,-0.089],[-3.04,-0.02],[-2.07,0.053],[-0.3,0.142],[0,0.495]],
 [[-6.75,-0.872],[-5.8,-0.82],[-4.83,-0.759],[-4.0,-0.677],[-3.44,-0.556],[-3.31,-0.475],[-3.04,-0.333],[-2.63,-0.24],[-2.07,-0.15],[-1.38,-0.069],[-0.3,0.053],[0,0.357]],
 [[-6.75,-0.86],[-5.8,-0.812],[-4.83,-0.755],[-4.0,-0.675],[-3.44,-0.556],[-3.31,-0.48],[-3.04,-0.34],[-2.63,-0.25],[-2.07,-0.16],[-1.38,-0.08],[-0.3,0.045],[0,0.35]]
];
// Scale = 20, Coupling = 75%
const r8c1 = [
 [[-6.75,-1.0],[-6.03,-1.0],[-5.75,-0.941],[-5.52,-0.844],[-5.31,-0.844],[-5.03,-0.824],[-4.79,-0.771],[-4.55,0.17],[-4.32,0.373],[-4.0,0.637],[-3.77,0.71],[-3.1,0.738],[-1.45,0.746],[-0.28,0.759],[0,0.941]],
 [[-6.75,-1.0],[-6.03,-1.0],[-5.75,-0.945],[-5.52,-0.85],[-5.31,-0.85],[-5.03,-0.83],[-4.79,-0.775],[-4.55,-0.073],[-4.28,0.089],[-4.04,0.373],[-3.77,0.617],[-3.1,0.677],[-2.14,0.718],[-1.17,0.738],[-0.28,0.791],[0,0.949]],
 [[-6.75,-0.974],[-5.63,-0.957],[-4,-0.917],[-3.35,-0.864],[-3.03,-0.742],[-2.76,-0.519],[-2.48,-0.215],[-2.21,-0.053],[-1.93,0.049],[-1.45,0.15],[-0.9,0.252],[-0.28,0.406],[0,0.617]],
 [[-6.75,-0.974],[-5.63,-0.957],[-4,-0.917],[-3.35,-0.866],[-3.03,-0.75],[-2.76,-0.53],[-2.48,-0.23],[-2.21,-0.07],[-1.93,0.03],[-1.45,0.13],[-0.9,0.235],[-0.28,0.39],[0,0.61]]
];
const r8c2 = [
 [[-6.75,-1.0],[-6.07,-1.0],[-5.79,-0.941],[-5.52,-0.864],[-5.24,-0.864],[-4.97,-0.844],[-4.76,-0.803],[-4.52,-0.073],[-4.31,0.13],[-4.0,0.394],[-3.79,0.462],[-3.1,0.487],[-0.28,0.527],[0,0.9]],
 [[-6.75,-1.0],[-6.07,-1.0],[-5.79,-0.945],[-5.52,-0.868],[-5.24,-0.868],[-4.97,-0.85],[-4.76,-0.803],[-4.52,-0.56],[-4.28,-0.438],[-4.0,-0.032],[-3.77,0.191],[-3.52,0.252],[-3.03,0.381],[-2.41,0.434],[-1.72,0.515],[-0.28,0.588],[0,0.9]],
 [[-6.75,-0.974],[-4,-0.925],[-3.31,-0.864],[-3.03,-0.742],[-2.76,-0.458],[-2.48,-0.256],[-2.21,-0.134],[-1.72,-0.012],[-1.17,0.069],[-0.28,0.211],[0,0.576]],
 [[-6.75,-0.974],[-4,-0.925],[-3.31,-0.866],[-3.03,-0.755],[-2.72,-0.56],[-2.41,-0.357],[-2.07,-0.235],[-1.59,-0.114],[-1.03,0.008],[-0.28,0.17],[0,0.535]]
];
const r8c3 = [
 [[-6.75,-0.986],[-5.97,-0.986],[-5.72,-0.945],[-5.52,-0.892],[-5.24,-0.884],[-5.01,-0.864],[-4.79,-0.844],[-4.55,-0.174],[-4.31,-0.093],[-4,0.11],[-3.77,0.211],[-3.31,0.243],[-2.55,0.272],[-0.28,0.3],[0,0.86]],
 [[-6.75,-0.986],[-5.97,-0.986],[-5.72,-0.947],[-5.52,-0.895],[-5.24,-0.887],[-5.01,-0.868],[-4.79,-0.848],[-4.55,-0.661],[-4.28,-0.62],[-4,-0.398],[-3.77,-0.195],[-3.52,-0.134],[-3.24,-0.073],[-2.96,-0.012],[-2.55,0.049],[-2.0,0.122],[-1.31,0.211],[-0.28,0.394],[0,0.86]],
 [[-6.75,-0.986],[-4,-0.945],[-3.31,-0.884],[-2.96,-0.783],[-2.69,-0.6],[-2.34,-0.398],[-2.0,-0.256],[-1.59,-0.154],[-1.03,-0.073],[-0.28,0.028],[0,0.576]],
 [[-6.75,-0.986],[-4,-0.945],[-3.31,-0.886],[-2.96,-0.803],[-2.62,-0.661],[-2.21,-0.479],[-1.72,-0.316],[-1.17,-0.195],[-0.62,-0.093],[-0.28,-0.012],[0,0.495]]
];
const r8c4 = [
 [[-6.75,-0.945],[-6.04,-0.937],[-5.77,-0.905],[-5.52,-0.763],[-4.51,-0.722],[-4.24,-0.58],[-4.04,-0.276],[-3.76,0.089],[-3.53,0.333],[-3.28,0.454],[-2.86,0.576],[-2.17,0.625],[-1.2,0.649],[-0.3,0.669],[0,0.88]],
 [[-6.75,-0.945],[-6.04,-0.937],[-5.77,-0.905],[-5.52,-0.768],[-4.51,-0.726],[-4.24,-0.58],[-4.04,-0.337],[-3.76,-0.032],[-3.55,0.17],[-3.28,0.292],[-2.86,0.454],[-2.45,0.556],[-1.9,0.617],[-0.3,0.669],[0,0.88]],
 [[-6.75,-0.945],[-5.63,-0.917],[-4.51,-0.876],[-3.69,-0.824],[-3.35,-0.763],[-3.07,-0.621],[-2.8,-0.458],[-2.45,-0.215],[-2.17,0.008],[-1.89,0.191],[-1.48,0.312],[-0.93,0.394],[-0.3,0.454],[0,0.677]],
 [[-6.75,-0.945],[-5.63,-0.917],[-4.51,-0.876],[-3.69,-0.824],[-3.35,-0.765],[-3.07,-0.63],[-2.8,-0.499],[-2.45,-0.276],[-2.1,-0.032],[-1.83,0.13],[-1.41,0.272],[-0.93,0.365],[-0.3,0.445],[0,0.67]]
];
const r8c5 = [
 [[-6.75,-0.953],[-5.99,-0.945],[-5.79,-0.905],[-5.54,-0.803],[-4.55,-0.763],[-4.27,-0.54],[-3.86,-0.215],[-3.58,0.028],[-3.31,0.252],[-2.96,0.333],[-2.34,0.381],[-0.3,0.446],[0,0.82]],
 [[-6.75,-0.953],[-5.99,-0.945],[-5.79,-0.905],[-5.54,-0.808],[-4.55,-0.783],[-4.2,-0.621],[-3.83,-0.499],[-3.55,-0.296],[-3.31,-0.093],[-3.04,0.049],[-2.62,0.15],[-2.07,0.272],[-1.38,0.373],[-0.3,0.446],[0,0.82]],
 [[-6.75,-0.953],[-5.24,-0.925],[-4.0,-0.876],[-3.31,-0.803],[-3.07,-0.682],[-2.83,-0.499],[-2.55,-0.276],[-2.21,-0.114],[-1.79,-0.032],[-1.1,0.069],[-0.3,0.26],[0,0.617]],
 [[-6.75,-0.953],[-5.24,-0.925],[-4.0,-0.876],[-3.31,-0.81],[-3.04,-0.702],[-2.76,-0.621],[-2.38,-0.479],[-2.07,-0.316],[-1.62,-0.174],[-1.1,-0.032],[-0.3,0.219],[0,0.576]]
];
const r8c6 = [
 [[-6.75,-0.965],[-6.0,-0.957],[-5.8,-0.933],[-5.59,-0.844],[-4.55,-0.803],[-4.3,-0.682],[-4.07,-0.519],[-3.8,-0.256],[-3.45,-0.073],[-3.18,0.028],[-2.76,0.11],[-2.07,0.162],[-1.24,0.203],[-0.3,0.231],[0,0.738]],
 [[-6.75,-0.965],[-6.0,-0.957],[-5.8,-0.935],[-5.59,-0.85],[-4.55,-0.81],[-4.27,-0.722],[-3.87,-0.621],[-3.45,-0.479],[-3.04,-0.337],[-2.63,-0.195],[-2.07,-0.073],[-1.52,0.028],[-0.96,0.089],[-0.3,0.219],[0,0.738]],
 [[-6.75,-0.973],[-4.83,-0.945],[-3.45,-0.864],[-3.04,-0.763],[-2.69,-0.661],[-2.35,-0.438],[-2.07,-0.256],[-1.66,-0.114],[-1.1,-0.041],[-0.3,0.069],[0,0.576]],
 [[-6.75,-0.973],[-4.83,-0.945],[-3.45,-0.87],[-3.04,-0.795],[-2.52,-0.702],[-2.07,-0.519],[-1.66,-0.357],[-1.1,-0.195],[-0.69,-0.114],[-0.3,-0.012],[0,0.535]]
];
// Scale = 20, Coupling = 100%
const r9c3 = [
 [[-6.75,-1.0],[-5.72,-0.99],[-5.52,-0.941],[-4.83,-0.933],[-4.55,-0.88],[-4.28,-0.868],[-4.0,-0.698],[-3.77,-0.584],[-3.52,-0.292],[-3.28,0.0],[-3.03,0.073],[-2.76,0.162],[-2.48,0.215],[-2.28,0.235],[-1.45,0.276],[-0.28,0.325],[0,0.945]],
 [[-6.75,-1.0],[-5.72,-0.99],[-5.52,-0.96],[-4.83,-0.955],[-4.55,-0.909],[-4.28,-0.9],[-4.0,-0.88],[-3.52,-0.82],[-3.03,-0.746],[-2.83,-0.677],[-2.55,-0.535],[-2.21,-0.333],[-1.86,-0.15],[-1.31,0.114],[-0.9,0.316],[-0.48,0.519],[-0.28,0.6],[0,0.925]],
 [[-6.75,-1.0],[-3.38,-0.961],[-2.96,-0.9],[-2.62,-0.779],[-2.28,-0.535],[-1.93,-0.353],[-1.59,-0.211],[-1.17,-0.13],[-0.62,-0.057],[-0.28,0.032],[0,0.641]],
 [[-6.75,-1.0],[-3.38,-0.965],[-2.83,-0.941],[-2.41,-0.88],[-2.07,-0.779],[-1.66,-0.576],[-1.17,-0.373],[-0.62,-0.211],[-0.28,-0.008],[0,0.58]]
];
const r9c6 = [
 [[-6.75,-0.974],[-5.8,-0.961],[-5.59,-0.909],[-4.55,-0.9],[-3.73,-0.86],[-3.52,-0.799],[-3.24,-0.617],[-3.04,-0.454],[-2.83,-0.13],[-2.55,0.053],[-2.28,0.114],[-1.79,0.174],[-1.24,0.235],[-0.24,0.268],[0,0.925]],
 [[-6.75,-0.974],[-5.8,-0.961],[-5.59,-0.921],[-4.55,-0.915],[-3.59,-0.868],[-3.04,-0.811],[-2.63,-0.718],[-2.28,-0.576],[-1.93,-0.373],[-1.52,-0.211],[-1.0,0.032],[-0.58,0.215],[-0.3,0.377],[0,0.905]],
 [[-6.75,-0.974],[-3.45,-0.921],[-2.83,-0.88],[-2.49,-0.82],[-2.21,-0.698],[-1.93,-0.454],[-1.66,-0.251],[-1.24,-0.11],[-0.69,-0.028],[-0.24,0.053],[0,0.641]],
 [[-6.75,-0.974],[-3.45,-0.925],[-2.63,-0.892],[-2.21,-0.84],[-1.93,-0.759],[-1.52,-0.576],[-1.1,-0.373],[-0.69,-0.231],[-0.24,-0.008],[0,0.56]]
];

// [row, col, panel]
const panelList = [
 [0,0,r1c1],[0,1,r1c2],[0,2,r1c3],[0,3,r1c4],[0,4,r1c5],[0,5,r1c6],
 [1,0,r2c1],[1,1,r2c2],[1,2,r2c3],[1,3,r2c4],[1,4,r2c5],[1,5,r2c6],
 [2,2,r3c3],[2,5,r3c6],
 [3,0,r4c1],[3,1,r4c2],[3,2,r4c3],[3,3,r4c4],[3,4,r4c5],[3,5,r4c6],
 [4,0,r5c1],[4,1,r5c2],[4,2,r5c3],[4,3,r5c4],[4,4,r5c5],[4,5,r5c6],
 [5,2,r6c3],[5,5,r6c6],
 [6,0,r7c1],[6,1,r7c2],[6,2,r7c3],[6,3,r7c4],[6,4,r7c5],[6,5,r7c6],
 [7,0,r8c1],[7,1,r8c2],[7,2,r8c3],[7,3,r8c4],[7,4,r8c5],[7,5,r8c6],
 [8,2,r9c3],[8,5,r9c6]
];

// ---------- Layout ----------
const NROWS = 9, NCOLS = 6;
const LEFT0 = 136, COL_STEP = 218.9, GW = 207;
const TOP0 = 106, ROW_STEP = 201.3, GH = 190;
const AXIS_COLOR = '#333333';
const TICK_FONT = 'DejaVu Sans';
const SERIF = 'Liberation Serif';
const seriesStyles = [
  {color: '#0000ff', type: 'solid'},
  {color: '#ff0000', type: 'solid'},
  {color: '#0000ff', type: [7, 3.5]},
  {color: '#ff0000', type: [7, 3.5]}
];
const fmt = v => {
  const s = Math.abs(v).toFixed(1);
  return v < 0 ? '\u2212' + s : s;
};
const fmtX = v => v < 0 ? '\u2212' + Math.abs(v) : String(v);

const chart = echarts.init(document.getElementById('chart'), null, {renderer: 'canvas'});

const dataMap = {};
panelList.forEach(p => { dataMap[p[0] + '_' + p[1]] = p[2]; });

const grids = [], xAxes = [], yAxes = [], series = [];
for (let i = 0; i < NROWS; i++) {
  for (let j = 0; j < NCOLS; j++) {
    const gi = i * NCOLS + j;
    const panel = dataMap[i + '_' + j];
    const has = !!panel;
    grids.push({
      left: LEFT0 + COL_STEP * j, top: TOP0 + ROW_STEP * i, width: GW, height: GH,
      show: has, borderColor: AXIS_COLOR, borderWidth: 1.5, backgroundColor: 'rgba(0,0,0,0)'
    });
    xAxes.push({
      type: 'value', gridIndex: gi, min: -6.75, max: 0,
      axisLine: {show: false},
      splitLine: {show: false},
      axisTick: {show: has, customValues: xTicks, length: 5, inside: false, lineStyle: {color: AXIS_COLOR, width: 1.3}},
      axisLabel: {show: i === NROWS - 1, customValues: xTicks, formatter: fmtX, fontFamily: TICK_FONT, fontSize: 14, color: '#333', margin: 9}
    });
    yAxes.push({
      type: 'value', gridIndex: gi, min: -1, max: 1, interval: 0.5,
      axisLine: {show: false},
      splitLine: {show: false},
      axisTick: {show: has, length: 5, inside: false, lineStyle: {color: AXIS_COLOR, width: 1.3}},
      axisLabel: {show: j === 0, formatter: fmt, fontFamily: TICK_FONT, fontSize: 14, color: '#333', margin: 8, showMinLabel: true, showMaxLabel: true}
    });
    if (has) {
      series.push({
        type: 'line', xAxisIndex: gi, yAxisIndex: gi, data: zeroLine,
        showSymbol: false, symbol: 'none', silent: true, z: 1,
        lineStyle: {color: '#808080', width: 1.3}
      });
      panel.forEach((pts, k) => {
        series.push({
          type: 'line', xAxisIndex: gi, yAxisIndex: gi, data: pts,
          showSymbol: false, symbol: 'none', silent: true, z: 2 + k,
          lineStyle: {color: seriesStyles[k].color, width: 2.4, type: seriesStyles[k].type, cap: 'butt', join: 'round'}
        });
      });
    }
  }
}

// ---------- Text ----------
const graphics = [];
const colCenter = j => LEFT0 + COL_STEP * j + GW / 2;
const titleFill = '#111';

// Ks/Kv headers
ratioHeaders.forEach((r, idx) => {
  const cx = colCenter(1 + idx * 3) + 2;
  graphics.push({
    type: 'text', x: cx, y: 22, silent: true,
    style: {
      text: '{K|K}{s|S}{n|/}{K|K}{s|V}{n| = ' + r + '}',
      align: 'center', verticalAlign: 'middle',
      rich: {
        K: {fontFamily: SERIF, fontStyle: 'italic', fontSize: 28, fill: titleFill, verticalAlign: 'bottom'},
        s: {fontFamily: SERIF, fontStyle: 'italic', fontSize: 18, fill: titleFill, verticalAlign: 'bottom'},
        n: {fontFamily: SERIF, fontSize: 28, fill: titleFill, verticalAlign: 'bottom'}
      }
    }
  });
});
// Fe headers
feLabels.forEach((f, j) => {
  graphics.push({
    type: 'text', x: colCenter(j) + 3, y: 64, silent: true,
    style: {
      text: '{i|Fe}{n| = ' + f + '}',
      align: 'center', verticalAlign: 'middle',
      rich: {
        i: {fontFamily: SERIF, fontStyle: 'italic', fontSize: 29, fill: titleFill, verticalAlign: 'bottom'},
        n: {fontFamily: SERIF, fontSize: 29, fill: titleFill, verticalAlign: 'bottom'}
      }
    }
  });
});
// Scale labels
const scaleCenters = [382, 995, 1577];
scaleLabels.forEach((s, k) => {
  graphics.push({
    type: 'text', x: 23, y: scaleCenters[k], rotation: Math.PI / 2, silent: true,
    style: {
      text: '{i|Scale}{n| = ' + s + '}',
      align: 'center', verticalAlign: 'middle',
      rich: {
        i: {fontFamily: SERIF, fontStyle: 'italic', fontSize: 30, fill: titleFill, verticalAlign: 'bottom'},
        n: {fontFamily: SERIF, fontSize: 30, fill: titleFill, verticalAlign: 'bottom'}
      }
    }
  });
});
// Coupling labels
const couplingCenters = [188, 392, 585, 795, 998, 1197, 1406, 1607, 1812];
const couplingSizes = [23, 23.5, 23, 25, 24.5, 18, 23, 23.5, 24.5];
couplingLabels.forEach((c, i) => {
  graphics.push({
    type: 'text', x: 70, y: couplingCenters[i], rotation: Math.PI / 2, silent: true,
    style: {
      text: c, align: 'center', verticalAlign: 'middle',
      fontFamily: SERIF, fontStyle: 'italic', fontSize: couplingSizes[i], fill: titleFill
    }
  });
});

chart.setOption({
  backgroundColor: '#ffffff',
  animation: false,
  grid: grids,
  xAxis: xAxes,
  yAxis: yAxes,
  series: series,
  graphic: graphics
});
</script>
</body>
</html>
